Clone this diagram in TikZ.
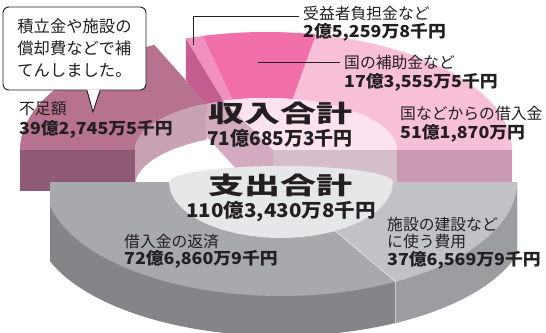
\documentclass[tikz,border=0pt]{standalone}
\usepackage{fontspec}
\usepackage{graphicx}
\setmainfont{Noto Sans CJK JP}
\newcommand{\numw}[1]{\scalebox{1.08}[1]{#1}}
\definecolor{mvTop}{HTML}{B7728F}
\definecolor{mvFront}{HTML}{8E5A74}
\definecolor{mvWall}{HTML}{C9A1B5}
\definecolor{pkSide}{HTML}{C55D8E}
\definecolor{pkFutan}{HTML}{EF90BD}
\definecolor{pkHojo}{HTML}{F06FA8}
\definecolor{pkKari}{HTML}{F8BFD8}
\definecolor{pkFront}{HTML}{CA9AB2}
\definecolor{pkCore}{HTML}{FDE3EF}
\definecolor{pkBand}{HTML}{D4AAC1}
\definecolor{pkStrip}{HTML}{D5BDCA}
\definecolor{gyHensai}{HTML}{A8A9AD}
\definecolor{gyKensetsu}{HTML}{C1C2C5}
\definecolor{gyWallA}{HTML}{858589}
\definecolor{gyWallB}{HTML}{9C9DA1}
\definecolor{gyCore}{HTML}{E6E7E9}
\definecolor{ink}{HTML}{231F20}
\begin{document}
\begin{tikzpicture}[x=1bp, y=1bp,
    lbl/.style={inner sep=0pt, anchor=base west, text=ink, font=\fontsize{15.8bp}{18bp}\selectfont},
    num/.style={lbl, font=\fontsize{16.5bp}{18bp}\selectfont\bfseries},
    big/.style={inner sep=0pt, anchor=base, text=ink, font=\fontsize{24bp}{26bp}\selectfont\bfseries},
    sum/.style={inner sep=0pt, anchor=base, text=ink, font=\fontsize{19bp}{21bp}\selectfont\bfseries},
    leader/.style={draw=ink, line width=0.8bp}]
  \fill[white] (0,0) rectangle (546,332);
  \useasboundingbox (0,0) rectangle (546,332);

  % income half, back
  \begin{scope}[shift={(266,182)}]
    \fill[pkSide] (109:246 and 118) -- (109:131 and 52) -- ([yshift=-41bp]109:131 and 52) -- ([yshift=-41bp]109:246 and 118) -- cycle;
    \fill[pkKari] (0:246 and 118) arc[start angle=0, end angle=78.3, x radius=246, y radius=118]
      -- (78.3:131 and 52) arc[start angle=78.3, end angle=0, x radius=131, y radius=52] -- cycle;
    \fill[pkHojo] (78.3:246 and 118) arc[start angle=78.3, end angle=104.9, x radius=246, y radius=118]
      -- (104.9:131 and 52) arc[start angle=104.9, end angle=78.3, x radius=131, y radius=52] -- cycle;
    \fill[pkFutan] (104.9:246 and 118) arc[start angle=104.9, end angle=109, x radius=246, y radius=118]
      -- (109:131 and 52) arc[start angle=109, end angle=104.9, x radius=131, y radius=52] -- cycle;
    \fill[mvTop] (180:246 and 118) arc[start angle=180, end angle=117, x radius=246, y radius=118]
      -- (117:131 and 52) arc[start angle=117, end angle=180, x radius=131, y radius=52] -- cycle;
    \fill[mvFront] (-246,0) rectangle (-131,-41);
    \fill[pkFront] (131,0) rectangle (246,-41);
    % seen through the hole
    \fill[mvWall] (180:131 and 52) arc[start angle=180, end angle=117, x radius=131, y radius=52]
      -- ++(0,-36) arc[start angle=117, end angle=180, x radius=131, y radius=52] -- cycle;
    \fill[pkCore] (109:131 and 52) arc[start angle=109, end angle=0, x radius=131, y radius=52] -- (7,0) -- cycle;
    \fill[pkBand] (117:131 and 52) -- (109:131 and 52) -- (7,0) -- (7,-36) -- (-14,-36) -- (-60,14) -- cycle;
    \fill[pkStrip] (7,0) rectangle (131,-41);
  \end{scope}

  % expenditure half, front
  \begin{scope}[shift={(281,150)}]
    \clip (-231,40) rectangle (236,-150);
    \fill[gyWallA] (-246,0) -- (-246,-40) arc[start angle=180, end angle=360, x radius=246, y radius=114] -- (246,0) -- cycle;
    \fill[gyWallB] (114,0) -- (114,-141) arc[start angle=297.6, end angle=360, x radius=246, y radius=114] -- (246,0) -- cycle;
    \fill[gyHensai] (180:236 and 114) arc[start angle=180, end angle=360, x radius=236, y radius=114]
      -- (0:112 and 56) arc[start angle=360, end angle=180, x radius=112, y radius=56] -- cycle;
    \fill[gyKensetsu] (299:236 and 114) arc[start angle=299, end angle=360, x radius=236, y radius=114]
      -- (0:112 and 56) arc[start angle=360, end angle=299, x radius=112, y radius=56] -- cycle;
    \draw[white!80!gray, line width=0.6bp] (299:112 and 56) -- (299:236 and 114) -- ++(0,-41);
    \fill[gyCore] (180:112 and 56) arc[start angle=180, end angle=360, x radius=112, y radius=56]
      arc[start angle=0, end angle=180, x radius=112, y radius=16] -- cycle;
  \end{scope}

  % callout
  \node[draw=ink, fill=white, rounded corners=6bp, line width=0.9bp, minimum width=143bp, minimum height=83bp,
    inner sep=0pt, align=left, text=ink, font=\fontsize{16.3bp}{22bp}\selectfont] (memo) at (74.5,283.5)
    {積立金や施設の\\償却費などで補\\てんしました。};
  \coordinate (memoTip) at (93,220);
  \fill[white] ([xshift=12.5bp,yshift=1bp]memo.south) -- (memoTip) -- ([xshift=25.5bp,yshift=1bp]memo.south) -- cycle;
  \draw[leader, line width=0.9bp] ([xshift=12.5bp]memo.south) -- (memoTip) -- ([xshift=25.5bp]memo.south);

  % labels
  \node[lbl] (juekiLbl) at (303,313) {受益者負担金など};
  \node[num] (juekiVal) at (303,295) {\numw{2億5,259万8千円}};
  \node[lbl] (hojoLbl) at (344,264) {国の補助金など};
  \node[num] (hojoVal) at (344,245) {\numw{17億3,555万5千円}};
  \node[lbl] (kariLbl) at (400,213) {国などからの借入金};
  \node[num] (kariVal) at (400,194) {\numw{51億1,870万円}};
  \node[lbl] (fusokuLbl) at (19,218) {不足額};
  \node[num] (fusokuVal) at (19,198) {\numw{39億2,745万5千円}};
  \node[lbl] (hensaiLbl) at (124,85) {借入金の返済};
  \node[num] (hensaiVal) at (124,68) {\numw{72億6,860万9千円}};
  \node[lbl] (kenLbl) at (387,102) {施設の建設など};
  \node[lbl] (kenLblB) at (387,85) {に使う費用};
  \node[num] (kenVal) at (387,67) {\numw{37億6,569万9千円}};
  \node[big] (inTitle) at (280,210) {\scalebox{1.5}[1]{収入合計}};
  \node[sum] (inVal) at (280,187) {71億685万3千円};
  \node[big] (outTitle) at (280,138) {\scalebox{1.5}[1]{支出合計}};
  \node[sum] (outVal) at (281,115) {\numw{110億3,430万8千円}};

  \coordinate (juekiPt) at (193,287);
  \coordinate (hojoPt) at (258,269);
  \draw[leader] ([xshift=-4bp,yshift=-3bp]juekiLbl.west) -| (juekiPt);
  \draw[leader] ([xshift=-4bp]hojoLbl.west) -- (hojoLbl.west -| hojoPt);
\end{tikzpicture}
\end{document}
